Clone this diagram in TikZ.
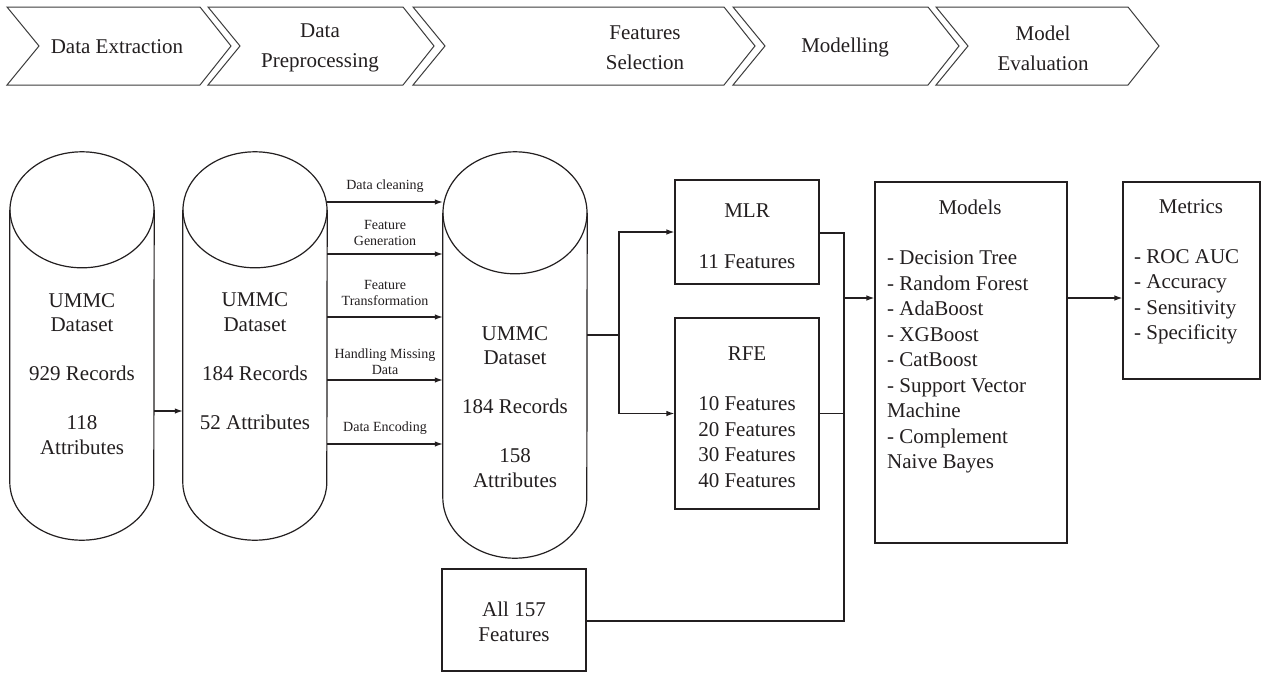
\documentclass[tikz,border=0pt]{standalone}
\usepackage{fontspec}
\setmainfont{Liberation Serif}
\usetikzlibrary{arrows.meta}
\definecolor{ln}{RGB}{35,31,32}
\definecolor{chevln}{RGB}{60,60,60}
\begin{document}
\begin{tikzpicture}[x=1pt,y=-1pt,
  every node/.style={text=ln, inner sep=0pt},
  body/.style={font=\fontsize{21}{24.5}\selectfont, align=center},
  boxtxt/.style={font=\fontsize{21}{25.5}\selectfont},
  chevtxt/.style={font=\fontsize{21}{30}\selectfont, align=center},
  smalltxt/.style={font=\fontsize{14}{16}\selectfont, align=center},
  chev/.style={draw=chevln, line width=1pt},
  conn/.style={draw=ln, line width=1.2pt},
  arr/.style={conn, -{Latex[length=8pt,width=5.5pt]}},
  boxnode/.style={draw=ln, line width=1.2pt, rectangle},
  cylbody/.style={draw=none, rectangle, minimum width=144pt}
]
\useasboundingbox (0,0) rectangle (1282,672);
\fill[white] (0,0) rectangle (1282,672);

% ---------------- chevrons ----------------
\draw[chev] (7,7) -- (200,7) -- (231,46) -- (200,85) -- (7,85) -- (39,46) -- cycle;
\draw[chev] (208,7) -- (403,7) -- (434,46) -- (403,85) -- (208,85) -- (240,46) -- cycle;
\draw[chev] (413,7) -- (724,7) -- (755,46) -- (724,85) -- (413,85) -- (445,46) -- cycle;
\draw[chev] (733,7) -- (928,7) -- (959,46) -- (928,85) -- (733,85) -- (765,46) -- cycle;
\draw[chev] (936,7) -- (1128,7) -- (1159,46) -- (1128,85) -- (936,85) -- (968,46) -- cycle;
\node[chevtxt] (h1) at (117,47) {Data Extraction};
\node[chevtxt] (h2) at (320,48) {Data\\Preprocessing};
\node[chevtxt] (h3) at (645,48) {Features\\Selection};
\node[chevtxt] (h4) at (845,47) {Modelling};
\node[chevtxt] (h5) at (1043,48) {Model\\Evaluation};

% ---------------- cylinders ----------------
\node[cylbody, minimum height=272pt] (c1) at (82,346) {};
\node[cylbody, minimum height=272pt] (c2) at (255,346) {};
\node[cylbody, minimum height=284pt] (c3) at (515,355) {};
\foreach \c/\ry in {c1/58,c2/58,c3/61}{
  \draw[conn] (\c.north) ellipse[x radius=72pt, y radius=\ry pt];
  \draw[conn] (\c.north west) -- (\c.south west)
     arc[start angle=180, end angle=360, x radius=72pt, y radius=\ry pt]
     -- (\c.north east);
}
\node[body] (t1) at (82,374) {UMMC\\Dataset\\[24.5pt]929 Records\\[24.5pt]118\\Attributes};
\node[body] (t2) at (255,361) {UMMC\\Dataset\\[24.5pt]184 Records\\[24.5pt]52 Attributes};
\node[body] (t3) at (515,407) {UMMC\\Dataset\\[24.5pt]184 Records\\[24.5pt]158\\Attributes};

\draw[arr] (c1.east |- 0,411) -- (c2.west |- 0,411);

% preprocessing steps
\foreach \y/\ly/\txt in {202/186/{Data cleaning},
                         254/233/{Feature\\Generation},
                         317/293/{Feature\\Transformation},
                         380/362/{Handling Missing\\Data},
                         444/428/{Data Encoding}}{
  \draw[arr] (c2.east |- 0,\y) -- (c3.west |- 0,\y);
  \node[smalltxt] at (385,\ly) {\txt};
}

% ---------------- feature selection ----------------
\node[boxnode, minimum width=144pt, minimum height=104pt] (mlr) at (747,232) {};
\node[boxnode, minimum width=144pt, minimum height=191pt] (rfe) at (747,413.5) {};
\node[boxnode, minimum width=144pt, minimum height=102pt] (all) at (514,620) {};
\node[boxtxt, align=center] (mlrt) at (747,236) {MLR\\[25.5pt]11 Features};
\node[boxtxt, align=center] (rfet) at (747,417) {RFE\\[25pt]10 Features\\20 Features\\30 Features\\40 Features};
\node[boxtxt, align=center] (allt) at (514,622) {All 157\\Features};

\coordinate (split) at (619,335);
\draw[conn] (c3.east |- split) -- (split);
\draw[arr] (split) |- (mlr.west);
\draw[arr] (split) |- (rfe.west);

\coordinate (merge) at (844,298);
\coordinate (mtop) at (844,233);
\coordinate (mbot) at (844,621);
\draw[conn] (mlr.east |- mtop) -- (mtop) -- (mbot) -- (all.east |- mbot);
\draw[conn] (rfe.east) -- (rfe.east -| merge);

% ---------------- models ----------------
\node[boxnode, minimum width=192pt, minimum height=361pt] (models) at (971,362.5) {};
\node[boxtxt] (modt) at (970,207) {Models};
\node[boxtxt, align=left, anchor=west] (modl) at (887,362)
  {- Decision Tree\\- Random Forest\\- AdaBoost\\- XGBoost\\- CatBoost\\- Support Vector\\Machine\\- Complement\\Naive Bayes};
\draw[arr] (merge) -- (models.west |- merge);

\node[boxnode, minimum width=137pt, minimum height=197pt] (metrics) at (1191.5,280.5) {};
\node[boxtxt] (mett) at (1191,207) {Metrics};
\node[boxtxt, align=left, anchor=west] (metl) at (1134,297)
  {- ROC AUC\\- Accuracy\\- Sensitivity\\- Specificity};
\draw[arr] (models.east |- merge) -- (metrics.west |- merge);
\end{tikzpicture}
\end{document}
